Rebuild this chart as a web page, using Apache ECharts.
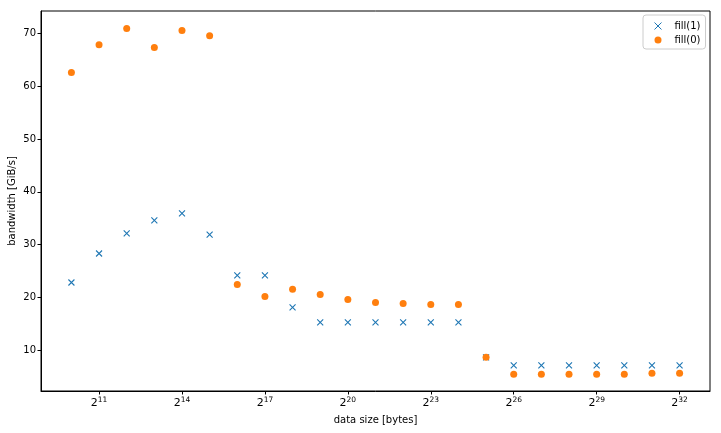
<!DOCTYPE html>
<html>
<head>
<meta charset="utf-8">
<script src="https://cdn.jsdelivr.net/npm/echarts@6/dist/echarts.min.js"></script>
<style>html,body{margin:0;padding:0;background:#fff}#c{width:721px;height:433px}</style>
</head>
<body>
<div id="c"></div>
<script>
// log2 of data size in bytes
const sizeExp = [10,11,12,13,14,15,16,17,18,19,20,21,22,23,24,25,26,27,28,29,30,31,32];
const fill1 = [22.8,28.3,32.1,34.6,35.9,31.9,24.15,24.15,18.1,15.25,15.25,15.25,15.25,15.25,15.25,8.6,7.1,7.1,7.1,7.1,7.1,7.1,7.1];
const fill0 = [62.6,67.9,70.95,67.35,70.57,69.6,22.44,20.17,21.5,20.55,19.6,19.03,18.84,18.65,18.65,8.61,5.39,5.39,5.39,5.39,5.39,5.58,5.58];
const xTickExp = [11,14,17,20,23,26,29,32];
const yTicks = [10,20,30,40,50,60,70];

const FONT = 'DejaVu Sans';
const chart = echarts.init(document.getElementById('c'), null, {renderer:'canvas'});
const xMark = 'path://M0,0L10,10M10,0L0,10';
chart.setOption({
  animation:false,
  textStyle:{fontFamily:FONT,color:'#000'},
  grid:{left:41,right:11,top:11,bottom:42,show:true,borderColor:'#000',borderWidth:1,containLabel:false,outerBoundsMode:'none'},
  legend:{
    left:643, top:15, orient:'vertical', itemGap:4, itemWidth:7, itemHeight:7,
    padding:[6,5,4,11],
    borderColor:'#ccc', borderWidth:1, borderRadius:3, backgroundColor:'rgba(255,255,255,0.8)',
    textStyle:{fontFamily:FONT,fontSize:10,color:'#000',padding:[0,0,0,8]},
    data:[{name:'fill(1)',itemStyle:{borderWidth:1}},{name:'fill(0)'}]
  },
  xAxis:{
    type:'value', min:8.9, max:33.1,
    name:'data size [bytes]', nameLocation:'middle', nameGap:24,
    nameTextStyle:{fontFamily:FONT,fontSize:10,color:'#000'},
    splitLine:{show:false},
    axisLine:{show:true,lineStyle:{color:'#000',width:1}},
    axisTick:{show:true,length:3.5,lineStyle:{color:'#000'},customValues:xTickExp},
    axisLabel:{
      customValues:xTickExp, margin:5, color:'#000',
      formatter:function(v){return '{b|2}{s|'+v+'}';},
      rich:{b:{fontFamily:FONT,fontSize:11,color:'#000'},s:{fontFamily:FONT,fontSize:7.5,color:'#000',padding:[0,0,6,0]}}
    }
  },
  yAxis:{
    type:'value', min:2.23, max:74.28,
    name:'bandwidth [GiB/s]', nameLocation:'middle', nameGap:24, nameRotate:90, nameMoveOverlap:false,
    nameTextStyle:{fontFamily:FONT,fontSize:10,color:'#000'},
    splitLine:{show:false},
    axisLine:{show:true,lineStyle:{color:'#000',width:1}},
    axisTick:{show:true,length:3.5,lineStyle:{color:'#000'},customValues:yTicks},
    axisLabel:{customValues:yTicks,margin:5,color:'#000',fontFamily:FONT,fontSize:10}
  },
  series:[
    {name:'fill(1)', type:'scatter', symbol:xMark, symbolSize:6,
     itemStyle:{color:'#1f77b4',borderColor:'#1f77b4',borderWidth:1.1,opacity:1},
     data:sizeExp.map((e,i)=>[e,fill1[i]])},
    {name:'fill(0)', type:'scatter', symbol:'circle', symbolSize:7,
     itemStyle:{color:'#ff7f0e',opacity:1},
     data:sizeExp.map((e,i)=>[e,fill0[i]])}
  ]
});
</script>
</body>
</html>
